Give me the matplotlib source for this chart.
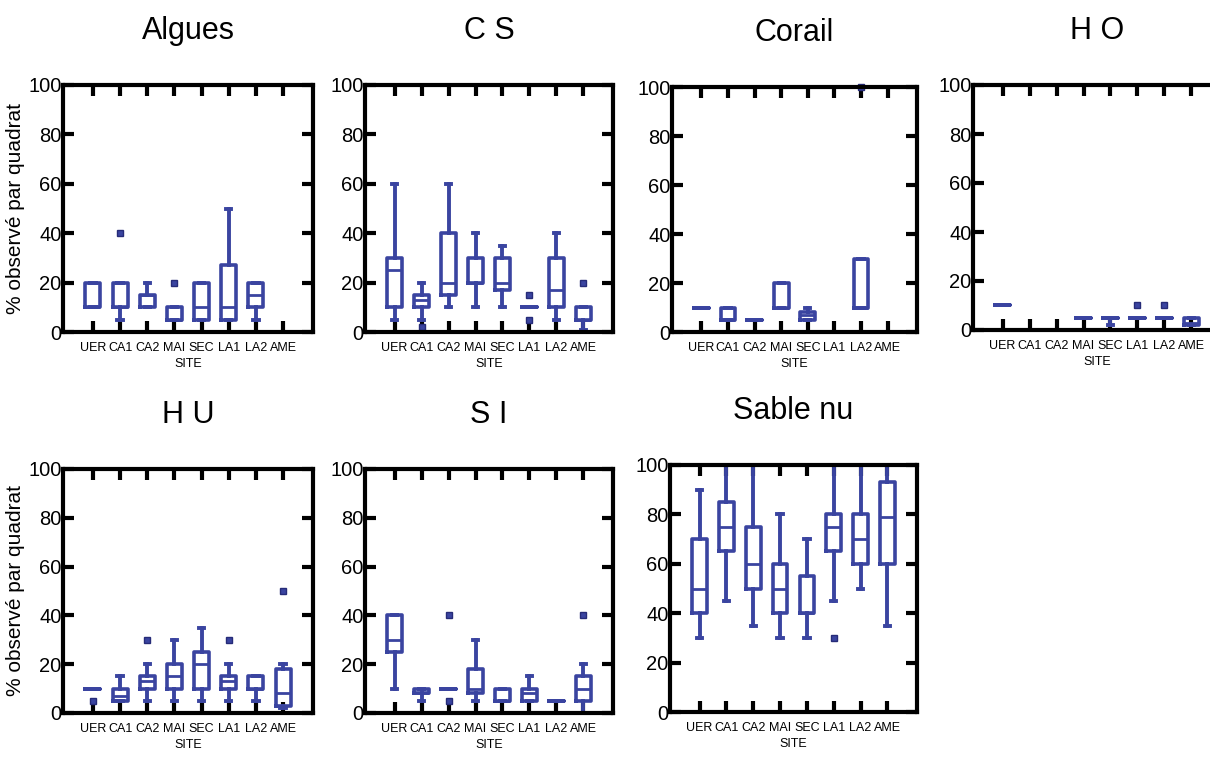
import matplotlib
matplotlib.use('Agg')
import matplotlib.pyplot as plt

plt.rcParams['font.family'] = ['Liberation Sans', 'DejaVu Sans']

# Sites on the x axis
sites = ['UER', 'CA1', 'CA2', 'MAI', 'SEC', 'LA1', 'LA2', 'AME']

# Box statistics (None = no box drawn)
algues_q1 = [10, 10, 10, 5, 5, 5, 10, None]
algues_med = [10, 10, 15, 5, 10, 10, 15, None]
algues_q3 = [20, 20, 15, 10, 20, 27, 20, None]
algues_lo = [10, 5, 10, 5, 5, 5, 5, None]
algues_hi = [20, 20, 20, 10, 20, 50, 20, None]
algues_out = [[], [40], [], [20], [], [], [], []]

cs_q1 = [10, 10, 15, 20, 17, 10, 10, 5]
cs_med = [25, 13, 20, 20, 20, 10, 17, 5]
cs_q3 = [30, 15, 40, 30, 30, 10, 30, 10]
cs_lo = [5, 5, 10, 10, 10, 10, 5, 1]
cs_hi = [60, 20, 60, 40, 35, 10, 40, 10]
cs_out = [[], [2], [], [], [], [5, 15], [], [20]]

corail_q1 = [10, 5, 5, 10, 5, None, 10, None]
corail_med = [10, 5, 5, 10, 7, None, 10, None]
corail_q3 = [10, 10, 5, 20, 8, None, 30, None]
corail_lo = [10, 5, 5, 10, 5, None, 10, None]
corail_hi = [10, 10, 5, 20, 10, None, 30, None]
corail_out = [[], [], [], [], [], [], [100], []]

ho_q1 = [10, None, None, 5, 5, 5, 5, 2]
ho_med = [10, None, None, 5, 5, 5, 5, 3]
ho_q3 = [10, None, None, 5, 5, 5, 5, 5]
ho_lo = [10, None, None, 5, 2, 5, 5, 2]
ho_hi = [10, None, None, 5, 5, 5, 5, 5]
ho_out = [[], [], [], [], [], [10], [10], []]

hu_q1 = [10, 5, 10, 10, 10, 10, 10, 3]
hu_med = [10, 7, 13, 15, 20, 13, 10, 8]
hu_q3 = [10, 10, 15, 20, 25, 15, 15, 18]
hu_lo = [10, 5, 5, 5, 5, 5, 5, 2]
hu_hi = [10, 15, 20, 30, 35, 20, 15, 20]
hu_out = [[5], [], [30], [], [], [30], [], [50]]

si_q1 = [25, 8, 10, 8, 5, 5, 5, 5]
si_med = [30, 8, 10, 10, 5, 8, 5, 10]
si_q3 = [40, 10, 10, 18, 10, 10, 5, 15]
si_lo = [10, 5, 10, 5, 5, 5, 5, 0]
si_hi = [40, 10, 10, 30, 10, 15, 5, 20]
si_out = [[], [], [5, 40], [], [], [], [], [40]]

sable_q1 = [40, 65, 50, 40, 40, 65, 60, 60]
sable_med = [50, 75, 60, 50, 40, 75, 70, 79]
sable_q3 = [70, 85, 75, 60, 55, 80, 80, 93]
sable_lo = [30, 45, 35, 30, 30, 45, 50, 35]
sable_hi = [90, 100, 100, 80, 70, 100, 100, 100]
sable_out = [[], [], [], [], [], [30], [], []]

panels = [
    ('Algues', algues_q1, algues_med, algues_q3, algues_lo, algues_hi, algues_out),
    ('C S', cs_q1, cs_med, cs_q3, cs_lo, cs_hi, cs_out),
    ('Corail', corail_q1, corail_med, corail_q3, corail_lo, corail_hi, corail_out),
    ('H O', ho_q1, ho_med, ho_q3, ho_lo, ho_hi, ho_out),
    ('H U', hu_q1, hu_med, hu_q3, hu_lo, hu_hi, hu_out),
    ('S I', si_q1, si_med, si_q3, si_lo, si_hi, si_out),
    ('Sable nu', sable_q1, sable_med, sable_q3, sable_lo, sable_hi, sable_out),
]

# axes boxes in pixels: left, top, right, bottom
W, H = 1210, 761
boxes_px = [
    (63, 85, 313, 332), (365, 85, 613, 332), (672, 87, 917, 332), (973, 85, 1221, 330),
    (63, 469, 313, 713), (365, 469, 613, 713), (670, 465, 917, 712),
]

blue = '#3a44a0'

fig = plt.figure(figsize=(W / 100, H / 100), dpi=100)

for i, (name, q1, med, q3, lo, hi, out) in enumerate(panels):
    l, t, r, b = boxes_px[i]
    ax = fig.add_axes([l / W, 1 - b / H, (r - l) / W, (b - t) / H])

    stats = []
    pos = []
    for k in range(len(sites)):
        if q1[k] is None:
            continue
        stats.append(dict(med=med[k], q1=q1[k], q3=q3[k], whislo=lo[k], whishi=hi[k], fliers=out[k]))
        pos.append(k + 1)

    ax.bxp(stats, positions=pos, widths=0.55, capwidths=0.2, showfliers=True,
           boxprops=dict(color=blue, lw=2.6),
           whiskerprops=dict(color=blue, lw=2.8),
           capprops=dict(color=blue, lw=2.8),
           medianprops=dict(color=blue, lw=2),
           flierprops=dict(marker='s', ms=5, markerfacecolor=blue, markeredgecolor='#262b78'))
    for art in ax.lines:
        art.set_clip_on(False)

    ax.set_xlim(-0.1, 9.1)
    ax.set_ylim(0, 100)
    ax.set_xticks(range(1, 9))
    ax.set_xticklabels(sites, fontsize=9)
    ax.set_yticks([0, 20, 40, 60, 80, 100])
    ax.tick_params(axis='y', labelsize=14.5, pad=1)
    ax.tick_params(direction='in', length=8, width=3, top=True, right=True, color='black')
    ax.tick_params(axis='x', pad=7)
    for sp in ax.spines.values():
        sp.set_linewidth(3)
    ax.set_xlabel('SITE', fontsize=9, labelpad=3)
    ax.set_title(name, fontsize=22, pad=33)
    if i in (0, 4):
        ax.set_ylabel('% observé par quadrat', fontsize=15, labelpad=2)

fig.savefig('out.png', dpi=100)
